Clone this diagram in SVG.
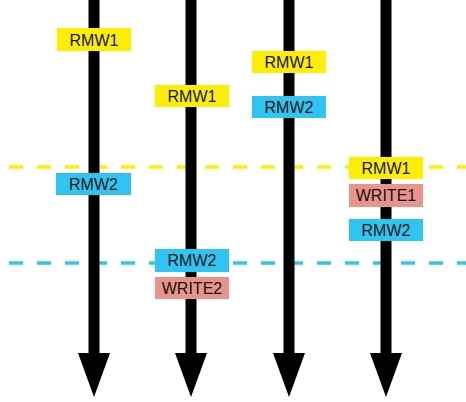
<svg xmlns="http://www.w3.org/2000/svg" width="466" height="402" viewBox="0 0 466 402">
  <style>
    .shaft { stroke: #000; stroke-width: 11; fill: none; }
    .head { fill: #000; }
    .sync { stroke-width: 3.5; stroke-dasharray: 14 14; fill: none; }
    .y { stroke: #ffee00; }
    .b { stroke: #2fc5f2; }
    .lbl rect { stroke: none; }
    .rmw1 rect { fill: #ffee00; }
    .rmw2 rect { fill: #2fc5f2; }
    .write rect { fill: #e9948a; }
    text { font-family: "Liberation Sans", Arial, sans-serif; font-size: 16px; fill: #111; text-anchor: middle; }
  </style>

  <!-- synchronisation lines -->
  <g id="connectors">
    <line class="sync y" x1="9" y1="167" x2="466" y2="167"/>
    <line class="sync b" x1="9" y1="263" x2="466" y2="263"/>
  </g>

  <!-- timelines -->
  <g id="timeline1">
    <line class="shaft" x1="94" y1="0" x2="94" y2="354"/>
    <polygon class="head" points="78,353 110,353 94,397"/>
  </g>
  <g id="timeline2">
    <line class="shaft" x1="191" y1="0" x2="191" y2="354"/>
    <polygon class="head" points="175,353 207,353 191,397"/>
  </g>
  <g id="timeline3">
    <line class="shaft" x1="289" y1="0" x2="289" y2="354"/>
    <polygon class="head" points="273,353 305,353 289,397"/>
  </g>
  <g id="timeline4">
    <line class="shaft" x1="386" y1="0" x2="386" y2="354"/>
    <polygon class="head" points="370,353 402,353 386,397"/>
  </g>

  <!-- operations -->
  <g id="t1-rmw1" class="lbl rmw1">
    <rect x="57" y="28" width="74" height="23"/>
    <text x="94" y="46">RMW1</text>
  </g>
  <g id="t1-rmw2" class="lbl rmw2">
    <rect x="56" y="173" width="75" height="22"/>
    <text x="93.5" y="190">RMW2</text>
  </g>

  <g id="t2-rmw1" class="lbl rmw1">
    <rect x="155" y="85" width="74" height="22"/>
    <text x="192" y="102">RMW1</text>
  </g>
  <g id="t2-rmw2" class="lbl rmw2">
    <rect x="155" y="249" width="74" height="23"/>
    <text x="192" y="266">RMW2</text>
  </g>
  <g id="t2-write2" class="lbl write">
    <rect x="155" y="277" width="74" height="22"/>
    <text x="192" y="294">WRITE2</text>
  </g>

  <g id="t3-rmw1" class="lbl rmw1">
    <rect x="252" y="51" width="74" height="22"/>
    <text x="289" y="68">RMW1</text>
  </g>
  <g id="t3-rmw2" class="lbl rmw2">
    <rect x="252" y="96" width="74" height="22"/>
    <text x="289" y="113">RMW2</text>
  </g>

  <g id="t4-rmw1" class="lbl rmw1">
    <rect x="349" y="157" width="74" height="22"/>
    <text x="386" y="174">RMW1</text>
  </g>
  <g id="t4-write1" class="lbl write">
    <rect x="349" y="184" width="74" height="23"/>
    <text x="386" y="201">WRITE1</text>
  </g>
  <g id="t4-rmw2" class="lbl rmw2">
    <rect x="349" y="219" width="74" height="22"/>
    <text x="386" y="236">RMW2</text>
  </g>
</svg>
